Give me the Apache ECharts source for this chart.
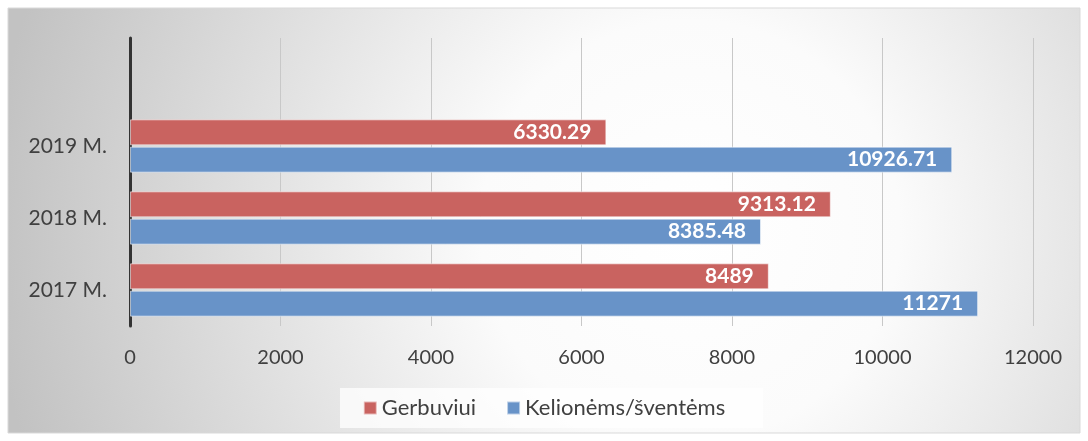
<!DOCTYPE html>
<html>
<head>
<meta charset="utf-8">
<script src="https://cdn.jsdelivr.net/npm/echarts@6/dist/echarts.min.js"></script>
<style>
  html, body { margin: 0; padding: 0; background: #fff; }
  #main { width: 1088px; height: 441px; }
</style>
</head>
<body>
<div id="main"></div>
<script>
// top category is empty on purpose (the source chart leaves a blank row)
var categories = ['2017 M.', '2018 M.', '2019 M.', ''];
var gerbuviui = [8489, 9313.12, 6330.29, null];
var keliones = [11271, 8385.48, 10926.71, null];
var xTicks = { min: 0, max: 12000, interval: 2000 };

var myChart = echarts.init(document.getElementById('main'));
var font = 'Lato, "Open Sans", sans-serif';

var option = {
  animation: false,
  textStyle: { fontFamily: font },
  graphic: [
    {
      type: 'rect',
      z: -10,
      shape: { x: 8, y: 8, width: 1072, height: 425 },
      style: {
        fill: {
          type: 'radial', global: true, x: 690, y: 230, r: 700,
          colorStops: [
            { offset: 0, color: '#ffffff' },
            { offset: 0.3, color: '#fbfbfb' },
            { offset: 1, color: '#c2c2c2' }
          ]
        },
        stroke: '#d9d9d9', lineWidth: 1
      }
    },
    {
      type: 'rect',
      z: -9,
      shape: { x: 340, y: 388, width: 423, height: 40 },
      style: { fill: 'rgba(255,255,255,0.75)' }
    }
  ],
  grid: { left: 130, right: 55, top: 38, bottom: 115 },
  legend: {
    data: ['Gerbuviui', 'Kelionėms/šventėms'],
    bottom: 17,
    left: 'center',
    itemWidth: 13,
    itemHeight: 13,
    itemGap: 30,
    icon: 'rect',
    textStyle: { fontSize: 22, color: '#404040', fontFamily: font }
  },
  xAxis: {
    type: 'value',
    min: xTicks.min,
    max: xTicks.max,
    interval: xTicks.interval,
    axisLine: { show: false },
    axisTick: { show: false },
    axisLabel: { fontSize: 20, color: '#404040', margin: 22, formatter: function (v) { return String(v); } },
    splitLine: { lineStyle: { color: '#c8c8c8', width: 1 } }
  },
  yAxis: {
    type: 'category',
    data: categories,
    axisLine: { show: true, lineStyle: { color: '#333333', width: 3 } },
    axisTick: { show: false },
    axisLabel: { fontSize: 21, color: '#404040', margin: 23 }
  },
  series: [
    {
      name: 'Gerbuviui',
      type: 'bar',
      data: gerbuviui,
      barWidth: 26,
      barGap: '5%',
      itemStyle: { color: '#c96360', borderColor: 'rgba(255,255,255,0.55)', borderWidth: 1 },
      label: {
        show: true, position: 'insideRight', distance: 15,
        color: '#ffffff', fontWeight: 'bold', fontSize: 21, fontFamily: font
      }
    },
    {
      name: 'Kelionėms/šventėms',
      type: 'bar',
      data: keliones,
      barWidth: 26,
      barGap: '5%',
      itemStyle: { color: '#6893c8', borderColor: 'rgba(255,255,255,0.55)', borderWidth: 1 },
      label: {
        show: true, position: 'insideRight', distance: 15,
        color: '#ffffff', fontWeight: 'bold', fontSize: 21, fontFamily: font
      }
    }
  ]
};

myChart.setOption(option);
</script>
</body>
</html>
